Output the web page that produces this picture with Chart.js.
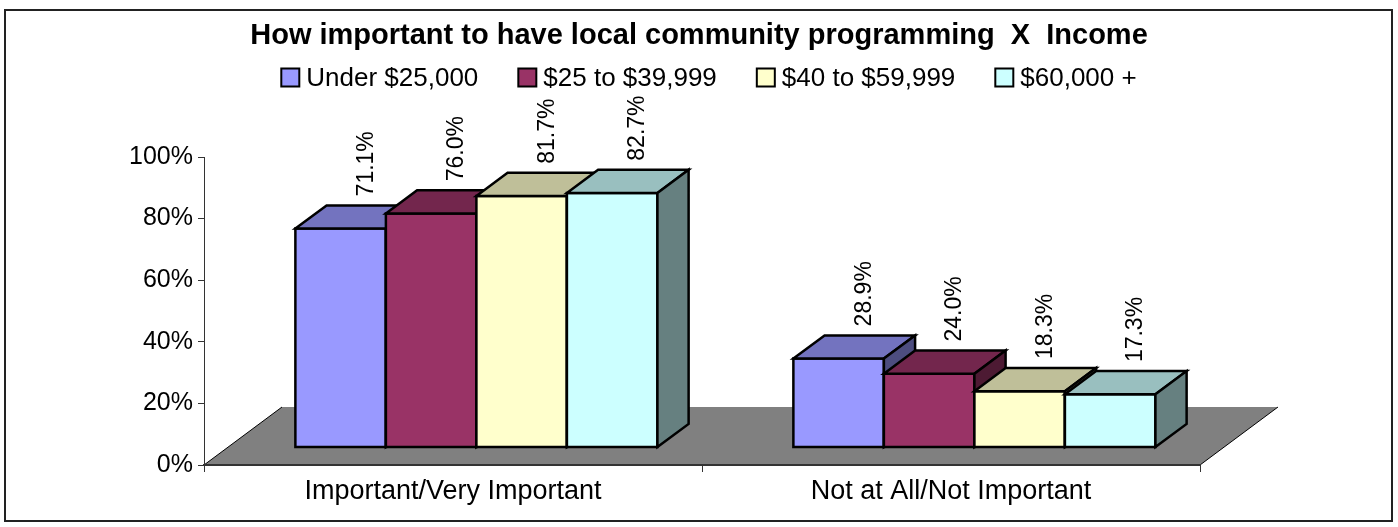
<!DOCTYPE html>
<html>
<head>
<meta charset="utf-8">
<title>How important to have local community programming X Income</title>
<script src="https://cdn.jsdelivr.net/npm/chart.js@4.4.1/dist/chart.umd.min.js"></script>
<style>
	html, body { margin: 0; padding: 0; background: #fff; }
	canvas { display: block; }
</style>
</head>
<body>
<canvas id="chart" width="1398" height="527"></canvas>
<script>
var categories = ['Important/Very Important', 'Not at All/Not Important'];
var incomeGroups = ['Under $25,000', '$25 to $39,999', '$40 to $59,999', '$60,000 +'];
var under25k = [71.1, 28.9];
var from25to40k = [76.0, 24.0];
var from40to60k = [81.7, 18.3];
var over60k = [82.7, 17.3];
var yTicks = [0, 20, 40, 60, 80, 100];

var colors = ['#9999FF', '#993366', '#FFFFCC', '#CCFFFF'];
var FONT = '"Liberation Sans", Arial, Helvetica, sans-serif';

// 3d look: floor depth in px, bars sit between 30% and 70% of it
var FLOOR_DX = 78, FLOOR_DY = 58;
var BAR_FRONT = 0.3, BAR_DEPTH = 0.4;

function shade(hex, f) {
	var n = parseInt(hex.slice(1), 16);
	var r = Math.round((n >> 16 & 255) * f);
	var g = Math.round((n >> 8 & 255) * f);
	var b = Math.round((n & 255) * f);
	return 'rgb(' + r + ',' + g + ',' + b + ')';
}

function face(ctx, pts, fill) {
	ctx.beginPath();
	ctx.moveTo(pts[0][0], pts[0][1]);
	for(var i = 1; i < pts.length; i++) {
		ctx.lineTo(pts[i][0], pts[i][1]);
	}
	ctx.closePath();
	ctx.fillStyle = fill;
	ctx.fill();
	ctx.stroke();
}

function drawBox(ctx, l, t, r, b, dx, dy, color) {
	face(ctx, [[l, t], [r, t], [r, b], [l, b]], color);
	face(ctx, [[l, t], [l + dx, t - dy], [r + dx, t - dy], [r, t]], shade(color, 0.75));
	face(ctx, [[r, t], [r + dx, t - dy], [r + dx, b - dy], [r, b]], shade(color, 0.5));
}

var chartFrame = {
	id: 'chartFrame',
	beforeDraw: function(chart) {
		var ctx = chart.ctx;
		var x = chart.scales.x, y = chart.scales.y;
		var y0 = y.getPixelForValue(0);

		ctx.save();
		ctx.fillStyle = '#fff';
		ctx.fillRect(0, 0, chart.width, chart.height);
		ctx.strokeStyle = '#222';
		ctx.lineWidth = 2;
		ctx.strokeRect(5, 10, chart.width - 11, chart.height - 16);

		// floor
		ctx.beginPath();
		ctx.moveTo(x.left, y0);
		ctx.lineTo(x.left + FLOOR_DX, y0 - FLOOR_DY);
		ctx.lineTo(x.right + FLOOR_DX, y0 - FLOOR_DY);
		ctx.lineTo(x.right, y0);
		ctx.closePath();
		ctx.fillStyle = '#808080';
		ctx.fill();

		ctx.strokeStyle = '#000';
		ctx.lineWidth = 1;
		ctx.beginPath();
		ctx.moveTo(x.left, y0);
		ctx.lineTo(x.left + FLOOR_DX, y0 - FLOOR_DY);
		ctx.moveTo(x.right, y0);
		ctx.lineTo(x.right + FLOOR_DX, y0 - FLOOR_DY);
		ctx.stroke();
		ctx.restore();
	},
	beforeDatasetsDraw: function(chart) {
		var ctx = chart.ctx;
		var ox = FLOOR_DX * BAR_FRONT, oy = FLOOR_DY * BAR_FRONT;
		var dx = FLOOR_DX * BAR_DEPTH, dy = FLOOR_DY * BAR_DEPTH;
		var labels = [];

		ctx.save();
		ctx.strokeStyle = '#000';
		ctx.lineWidth = 2.5;
		ctx.lineJoin = 'miter';
		chart.data.datasets.forEach(function(ds, i) {
			chart.getDatasetMeta(i).data.forEach(function(bar, j) {
				var p = bar.getProps(['x', 'y', 'base', 'width'], true);
				var l = p.x - p.width / 2 + ox, r = p.x + p.width / 2 + ox;
				var t = p.y - oy, b = p.base - oy;
				drawBox(ctx, l, t, r, b, dx, dy, ds.backgroundColor);
				labels.push({x: p.x + ox + dx + 1, y: t - dy - 9, text: ds.data[j].toFixed(1) + '%'});
			});
		});

		ctx.fillStyle = '#000';
		ctx.font = '23px ' + FONT;
		ctx.textAlign = 'left';
		ctx.textBaseline = 'alphabetic';
		labels.forEach(function(lb) {
			ctx.save();
			ctx.translate(lb.x, lb.y);
			ctx.rotate(-Math.PI / 2);
			ctx.fillText(lb.text, 0, 0);
			ctx.restore();
		});
		ctx.restore();
		return false;
	},
	afterDraw: function(chart) {
		// legend row under the title
		var ctx = chart.ctx;
		var box = 18, gap = 7, spacing = 40, mid = 77.5;
		var items = chart.data.datasets;

		ctx.save();
		ctx.font = '26px ' + FONT;
		var widths = items.map(function(ds) {
			return box + gap + ctx.measureText(ds.label).width;
		});
		var total = widths.reduce(function(a, w) { return a + w; }, 0) + spacing * (items.length - 1);
		var cx = chart.width / 2 + 10 - total / 2;

		ctx.textAlign = 'left';
		ctx.textBaseline = 'middle';
		items.forEach(function(ds, i) {
			ctx.fillStyle = ds.backgroundColor;
			ctx.fillRect(cx, mid - box / 2, box, box);
			ctx.strokeStyle = '#000';
			ctx.lineWidth = 2;
			ctx.strokeRect(cx, mid - box / 2, box, box);
			ctx.fillStyle = '#000';
			ctx.fillText(ds.label, cx + box + gap, mid + 1);
			cx += widths[i] + spacing;
		});
		ctx.restore();
	}
};

Chart.defaults.font.family = FONT;
Chart.defaults.color = '#000';

var series = [under25k, from25to40k, from40to60k, over60k];

new Chart(document.getElementById('chart'), {
	type: 'bar',
	data: {
		labels: categories,
		datasets: series.map(function(values, i) {
			return {
				label: incomeGroups[i],
				data: values,
				backgroundColor: colors[i],
				categoryPercentage: 0.727,
				barPercentage: 1
			};
		})
	},
	plugins: [chartFrame],
	options: {
		responsive: false,
		animation: false,
		layout: { padding: 0 },
		plugins: {
			legend: { display: false },
			tooltip: { enabled: false },
			title: {
				display: true,
				text: 'How important to have local community programming  X  Income',
				font: { size: 29, weight: 'bold' },
				color: '#000',
				padding: { top: 19, bottom: 103.2 }
			}
		},
		scales: {
			x: {
				grid: { offset: true, drawOnChartArea: false, tickLength: 7, color: '#333', lineWidth: 1 },
				border: { color: '#333', width: 2 },
				ticks: { font: { size: 27 }, padding: 3, color: '#000' },
				afterFit: function(s) { s.height = 62; }
			},
			y: {
				min: 0,
				max: 100,
				grid: { drawOnChartArea: false, tickLength: 6, color: '#333' },
				border: { color: '#333', width: 1 },
				ticks: {
					font: { size: 25 },
					padding: 5,
					color: '#000',
					callback: function(v) { return v + '%'; }
				},
				afterBuildTicks: function(s) {
					s.ticks = yTicks.map(function(v) { return {value: v}; });
				},
				afterFit: function(s) { s.width = 204; }
			},
			spacer: {
				type: 'linear',
				position: 'right',
				grid: { display: false },
				border: { display: false },
				ticks: { display: false },
				afterFit: function(s) { s.width = 198; }
			}
		}
	}
});
</script>
</body>
</html>
